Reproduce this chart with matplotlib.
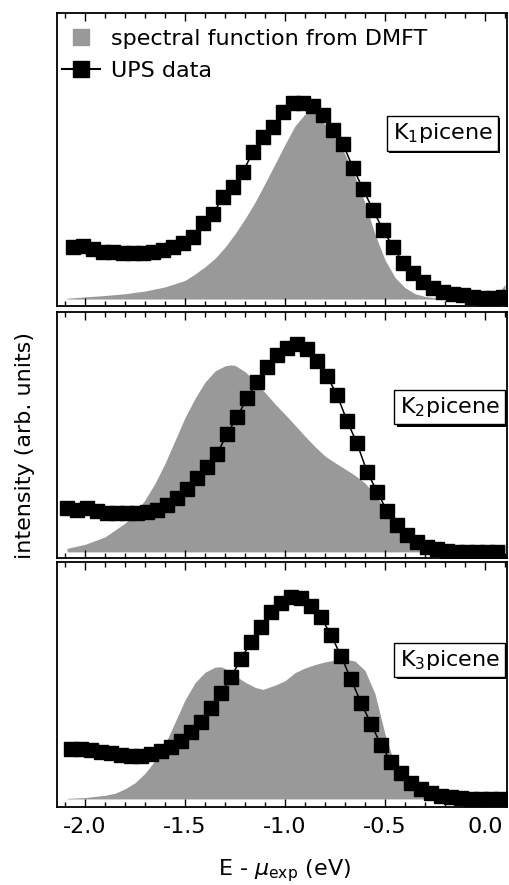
import matplotlib
matplotlib.use('Agg')
import matplotlib.pyplot as plt
from matplotlib import patheffects
from matplotlib.lines import Line2D
from matplotlib.ticker import MultipleLocator

plt.rcParams['font.family'] = ['DejaVu Sans']
plt.rcParams['mathtext.fontset'] = 'dejavusans'
plt.rcParams['axes.unicode_minus'] = False

# --- UPS data (normalised to peak = 1) ---
ups_energy_k1 = [-2.06, -2.01, -1.96, -1.91, -1.86, -1.81, -1.76, -1.71, -1.66, -1.61, -1.56,
                 -1.51, -1.46, -1.41, -1.36, -1.31, -1.26, -1.21, -1.16, -1.11, -1.06, -1.01,
                 -0.96, -0.91, -0.86, -0.81, -0.76, -0.71, -0.66, -0.61, -0.56, -0.51, -0.46,
                 -0.41, -0.36, -0.31, -0.26, -0.21, -0.16, -0.11, -0.06, -0.01, 0.04, 0.09]
ups_k1 = [0.264, 0.271, 0.254, 0.242, 0.242, 0.234, 0.234, 0.236, 0.238, 0.250, 0.264,
          0.285, 0.318, 0.387, 0.434, 0.523, 0.574, 0.650, 0.753, 0.829, 0.877, 0.957,
          1.000, 1.000, 0.984, 0.940, 0.864, 0.790, 0.671, 0.561, 0.455, 0.353, 0.267,
          0.185, 0.131, 0.088, 0.055, 0.037, 0.026, 0.020, 0.012, 0.004, 0.004, 0.009]

ups_energy_k2 = [-2.09, -2.04, -1.99, -1.94, -1.89, -1.84, -1.79, -1.74, -1.69, -1.64, -1.59,
                 -1.54, -1.49, -1.44, -1.39, -1.34, -1.29, -1.24, -1.19, -1.14, -1.09, -1.04,
                 -0.99, -0.94, -0.89, -0.84, -0.79, -0.74, -0.69, -0.64, -0.59, -0.54, -0.49,
                 -0.44, -0.39, -0.34, -0.29, -0.24, -0.19, -0.14, -0.09, -0.04, 0.01, 0.06]
ups_k2 = [0.212, 0.201, 0.209, 0.196, 0.188, 0.188, 0.185, 0.188, 0.193, 0.201, 0.225,
          0.257, 0.300, 0.353, 0.409, 0.470, 0.566, 0.646, 0.737, 0.817, 0.886, 0.945,
          0.978, 1.000, 0.972, 0.917, 0.844, 0.753, 0.629, 0.521, 0.385, 0.289, 0.197,
          0.129, 0.081, 0.048, 0.022, 0.012, 0.005, 0.000, 0.000, -0.002, -0.002, 0.000]

ups_energy_k3 = [-2.07, -2.02, -1.97, -1.92, -1.87, -1.82, -1.77, -1.72, -1.67, -1.62, -1.57,
                 -1.52, -1.47, -1.42, -1.37, -1.32, -1.27, -1.22, -1.17, -1.12, -1.07, -1.02,
                 -0.97, -0.92, -0.87, -0.82, -0.77, -0.72, -0.67, -0.62, -0.57, -0.52, -0.47,
                 -0.42, -0.37, -0.32, -0.27, -0.22, -0.17, -0.12, -0.07, -0.02, 0.03, 0.08]
ups_k3 = [0.246, 0.246, 0.242, 0.234, 0.226, 0.217, 0.214, 0.214, 0.222, 0.239, 0.259,
          0.288, 0.333, 0.382, 0.448, 0.522, 0.605, 0.691, 0.778, 0.852, 0.926, 0.969,
          1.000, 0.992, 0.954, 0.898, 0.811, 0.707, 0.592, 0.476, 0.371, 0.267, 0.184,
          0.127, 0.081, 0.048, 0.028, 0.015, 0.008, 0.003, 0.000, 0.000, 0.000, 0.000]

# --- DMFT spectral functions (same units) ---
dmft_energy_k1 = [-2.09, -2.0, -1.9, -1.8, -1.7, -1.6, -1.5, -1.45, -1.4, -1.35, -1.3, -1.25,
                  -1.2, -1.15, -1.1, -1.05, -1.0, -0.95, -0.9, -0.87, -0.85, -0.8, -0.75,
                  -0.7, -0.65, -0.6, -0.55, -0.5, -0.45, -0.4, -0.35, -0.3, -0.25, -0.2,
                  -0.1, 0.0, 0.05, 0.07, 0.085, 0.1]
dmft_k1 = [0.004, 0.011, 0.018, 0.027, 0.041, 0.062, 0.095, 0.128, 0.165, 0.208, 0.265, 0.333,
           0.410, 0.495, 0.591, 0.690, 0.790, 0.885, 0.945, 0.957, 0.952, 0.890, 0.820,
           0.740, 0.625, 0.490, 0.330, 0.200, 0.110, 0.058, 0.027, 0.013, 0.007, 0.004,
           0.003, 0.003, 0.005, 0.030, 0.055, 0.075]

dmft_energy_k2 = [-2.09, -2.0, -1.9, -1.8, -1.75, -1.7, -1.65, -1.6, -1.55, -1.5, -1.45, -1.4,
                  -1.35, -1.3, -1.27, -1.25, -1.2, -1.15, -1.1, -1.05, -1.0, -0.95, -0.9,
                  -0.85, -0.8, -0.75, -0.7, -0.65, -0.6, -0.55, -0.5, -0.45, -0.4, -0.35,
                  -0.3, -0.25, -0.2, -0.1, 0.0, 0.06, 0.08, 0.1]
dmft_k2 = [0.017, 0.036, 0.072, 0.138, 0.185, 0.250, 0.329, 0.425, 0.535, 0.645, 0.737, 0.815,
           0.868, 0.893, 0.897, 0.895, 0.865, 0.818, 0.765, 0.710, 0.660, 0.608, 0.555,
           0.505, 0.460, 0.428, 0.398, 0.367, 0.330, 0.275, 0.207, 0.135, 0.082, 0.037,
           0.012, 0.003, 0.000, 0.000, 0.000, 0.000, 0.020, 0.040]

dmft_energy_k3 = [-2.09, -2.0, -1.9, -1.85, -1.8, -1.75, -1.7, -1.65, -1.6, -1.55, -1.5, -1.45,
                  -1.4, -1.35, -1.32, -1.3, -1.25, -1.2, -1.15, -1.11, -1.05, -1.0, -0.95,
                  -0.9, -0.85, -0.8, -0.75, -0.7, -0.65, -0.6, -0.55, -0.5, -0.45, -0.4,
                  -0.35, -0.3, -0.25, -0.2, 0.0, 0.06, 0.1]
dmft_k3 = [0.003, 0.007, 0.018, 0.028, 0.050, 0.080, 0.127, 0.190, 0.270, 0.380, 0.490, 0.575,
           0.627, 0.652, 0.654, 0.645, 0.610, 0.578, 0.552, 0.542, 0.563, 0.585, 0.625,
           0.648, 0.665, 0.678, 0.687, 0.692, 0.682, 0.635, 0.520, 0.320, 0.165, 0.085,
           0.042, 0.018, 0.004, 0.000, 0.000, 0.000, 0.020]

labels = ['K$_1$picene', 'K$_2$picene', 'K$_3$picene']
ylims = [(-0.033, 1.461), (-0.031, 1.151), (-0.040, 1.172)]

gray = '#999999'

fig = plt.figure(figsize=(5.1, 8.85), dpi=100)
# axes rectangles in figure fraction (left, bottom, width, height)
rects = [(0.1118, 0.6548, 0.8824, 0.3305),
         (0.1118, 0.3691, 0.8824, 0.2783),
         (0.1118, 0.0881, 0.8824, 0.2768)]
label_pos = [(0.857, 0.589), (0.873, 0.614), (0.873, 0.600)]

panels = [(ups_energy_k1, ups_k1, dmft_energy_k1, dmft_k1),
          (ups_energy_k2, ups_k2, dmft_energy_k2, dmft_k2),
          (ups_energy_k3, ups_k3, dmft_energy_k3, dmft_k3)]

axes = []
for i, (ue, uv, de, dv) in enumerate(panels):
    ax = fig.add_axes(rects[i])
    ax.fill_between(de, 0, dv, color=gray, lw=0)
    ax.plot(ue, uv, color='k', lw=1.1, marker='s', markersize=9.6)
    ax.set_xlim(-2.14, 0.11)
    ax.set_ylim(*ylims[i])
    ax.set_yticks([])
    ax.xaxis.set_major_locator(MultipleLocator(0.5))
    ax.xaxis.set_minor_locator(MultipleLocator(0.1))
    ax.tick_params(axis='x', which='both', direction='in', top=True, bottom=True,
                   width=1.0, labelsize=16, pad=7)
    ax.tick_params(axis='x', which='major', length=5.5)
    ax.tick_params(axis='x', which='minor', length=3.3)
    for sp in ax.spines.values():
        sp.set_linewidth(1.3)
    if i < 2:
        ax.tick_params(axis='x', labelbottom=False)
    else:
        ax.set_xticks([-2.0, -1.5, -1.0, -0.5, 0.0])
        ax.set_xticklabels(['-2.0', '-1.5', '-1.0', '-0.5', '0.0'])

    # label box with a small drop shadow
    lx, ly = label_pos[i]
    t = ax.text(lx, ly, labels[i], transform=ax.transAxes, ha='center', va='center',
                fontsize=16, zorder=5,
                bbox=dict(boxstyle='square,pad=0.24', fc='white', ec='k', lw=1.0))
    t.get_bbox_patch().set_path_effects([
        patheffects.SimplePatchShadow(offset=(1.5, -1.5), shadow_rgbFace='k', alpha=1.0),
        patheffects.Normal()])
    axes.append(ax)

handles = [Line2D([], [], color=gray, marker='s', ls='none', markersize=12.2),
           Line2D([], [], color='k', marker='s', lw=1.5, markersize=11.5)]
axes[0].legend(handles, ['spectral function from DMFT', 'UPS data'], loc='upper left',
               bbox_to_anchor=(0.012, 0.946), frameon=False, fontsize=16, borderpad=0,
               borderaxespad=0, handlelength=1.7, handletextpad=0.5, labelspacing=0.55)

fig.text(0.049, 0.497, 'intensity (arb. units)', rotation=90, ha='center', va='center',
         fontsize=16)
fig.text(0.557, 0.0113, 'E - $\\mu_{\\mathrm{exp}}$ (eV)', ha='center', va='baseline',
         fontsize=16)

fig.savefig('out.png', dpi=100)
